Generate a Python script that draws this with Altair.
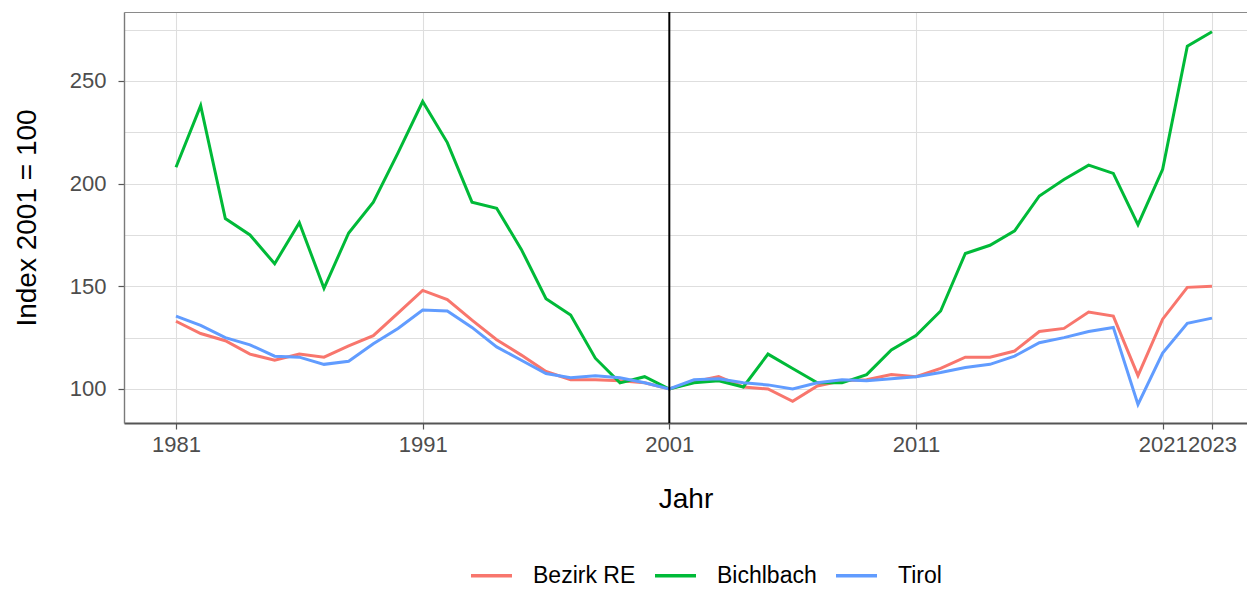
import altair as alt
import pandas as pd

years = list(range(1981, 2024))
series_names = ["Bezirk RE", "Bichlbach", "Tirol"]
series_colors = ["#F8766D", "#00BA38", "#619CFF"]

bezirk_re = [133, 127, 123.5, 117, 114, 117, 115.5, 121, 126, 137,
             148, 143.5, 133.5, 124, 116.5, 108.5, 104.5, 104.5, 104, 103,
             100, 103.5, 106, 101, 100, 94, 101.5, 104, 104.5, 107,
             106, 110, 115.5, 115.5, 118.5, 128, 129.5, 137.5, 135.5, 106.5,
             134, 149.5, 150]
bichlbach = [208, 238, 183, 175, 161, 181, 149, 176, 191, 215,
             240, 220, 191, 188, 168, 144, 136, 115, 103, 106,
             100, 103, 104, 101, 117, 110, 103, 103, 107, 119,
             126, 138, 166, 170, 177, 194, 202, 209, 205, 180,
             207, 267, 274]
tirol = [135.5, 131, 125, 121.5, 116, 115.5, 112, 113.5, 122, 129.5,
         138.5, 138, 130, 120.5, 114, 107.5, 105.5, 106.5, 105.5, 103,
         100, 104.5, 105, 103, 102, 100, 103, 104.5, 104, 105,
         106, 108, 110.5, 112, 116, 122.5, 125, 128, 130, 92.5,
         117.5, 132, 134.5]

x_breaks = [1981, 1991, 2001, 2011, 2021, 2023]
y_breaks = [100, 125, 150, 175, 200, 225, 250, 275]
ref_year = [2001]

rows = []
for name, vals in zip(series_names, [bezirk_re, bichlbach, tirol]):
    for yr, v in zip(years, vals):
        rows.append({"Jahr": yr, "Region": name, "Index": v})
df = pd.DataFrame(rows)
ref_df = pd.DataFrame({"Jahr": ref_year})

FONT = "Liberation Sans"
x_scale = alt.Scale(domain=[1978.892, 2024.42], nice=False, zero=False)
y_scale = alt.Scale(domain=[83.44, 283.6], nice=False, zero=False)

lines = alt.Chart(df).mark_line(strokeWidth=3, clip=True).encode(
    x=alt.X("Jahr:Q", scale=x_scale,
            axis=alt.Axis(values=x_breaks, format="d", title="Jahr",
                          labelFontSize=22, labelColor="#4d4d4d", labelFont=FONT,
                          labelPadding=5, tickSize=6, tickColor="#555555", tickWidth=1.2,
                          domainColor="#555555", domainWidth=2.2,
                          grid=True, gridColor="#dedede", gridWidth=1.1,
                          titleFontSize=28, titleFont=FONT, titleFontWeight="normal",
                          titleColor="black", titlePadding=30, labelFlush=False)),
    y=alt.Y("Index:Q", scale=y_scale,
            axis=alt.Axis(values=y_breaks, title="Index 2001 = 100",
                          labelExpr="datum.value % 50 == 0 ? datum.label : ''",
                          labelFontSize=22, labelColor="#4d4d4d", labelFont=FONT,
                          labelPadding=12, tickSize=6, tickColor="#555555", tickWidth=1.2,
                          tickOpacity={"condition": {"test": "datum.value % 50 == 0", "value": 1}, "value": 0},
                          domainColor="#7a7a7a", domainWidth=1.4,
                          grid=True, gridColor="#dedede", gridWidth=1.1,
                          titleFontSize=28, titleFont=FONT, titleFontWeight="normal",
                          titleColor="black", titlePadding=28, labelFlush=False)),
    color=alt.Color("Region:N",
                    scale=alt.Scale(domain=series_names, range=series_colors),
                    legend=alt.Legend(orient="none", legendX=345, legendY=541,
                                      direction="horizontal", title=None,
                                      symbolType="stroke", symbolSize=1681,
                                      symbolStrokeWidth=3.5, labelFontSize=23,
                                      labelFont=FONT, labelColor="black",
                                      labelOffset=19, columnPadding=12, padding=0)),
)

vline = alt.Chart(ref_df).mark_rule(color="black", strokeWidth=2).encode(
    x=alt.X("Jahr:Q", scale=x_scale,
            axis=alt.Axis(orient="top", labels=False, ticks=False, grid=False,
                          title=None, domainColor="#8a8a8a", domainWidth=1.2))
)

chart = alt.layer(lines, vline).resolve_axis(x="independent").properties(
    width=1123, height=411,
    autosize=alt.AutoSizeParams(type="none"),
    padding={"left": 116, "top": 4, "right": 0, "bottom": 164},
).configure_view(stroke=None).configure(background="white")

chart.save("out.html", embed_options={"renderer": "svg", "actions": False})
